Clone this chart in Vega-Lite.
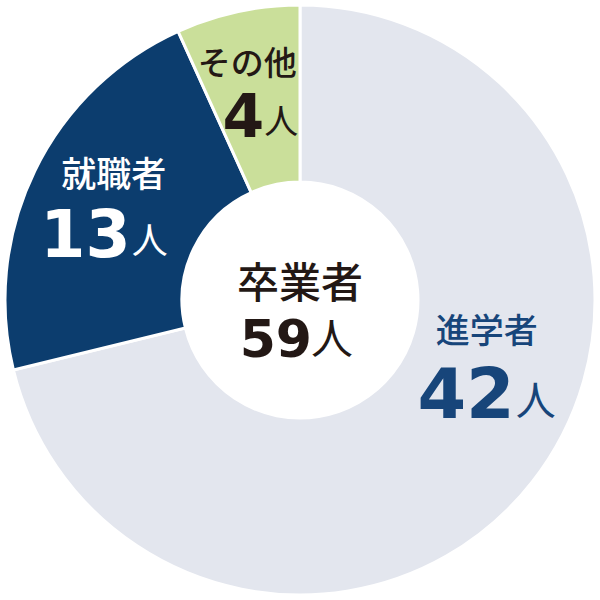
{
  "$schema": "https://vega.github.io/schema/vega-lite/v6.json",
  "width": 600,
  "height": 600,
  "autosize": {"type": "none"},
  "padding": 0,
  "background": "#ffffff",
  "config": {"view": {"stroke": null}},
  "data": {"values": [
    {"cat": "進学者", "count": 42},
    {"cat": "就職者", "count": 13},
    {"cat": "その他", "count": 4}
  ]},
  "layer": [
    {
      "encoding": {
        "theta": {"field": "count", "type": "quantitative", "stack": true},
        "order": {"field": "cat", "sort": "descending"}
      },
      "layer": [
        {
          "mark": {"type": "arc", "outerRadius": 295, "innerRadius": 118, "stroke": "#ffffff", "strokeWidth": 3},
          "encoding": {
            "color": {"field": "cat", "type": "nominal", "legend": null,
              "scale": {"domain": ["進学者", "就職者", "その他"], "range": ["#e3e6ee", "#0c3d6e", "#cadf9a"]}}
          }
        },
        {
          "mark": {"type": "text", "radius": 207, "dx": 24, "dy": -95, "font": "Noto Sans CJK JP", "fontSize": 34, "fontWeight": 500, "fill": "#17457a"},
          "encoding": {"detail": {"field": "cat"}, "text": {"condition": {"test": "datum.cat === '進学者'", "field": "cat", "type": "nominal"}, "value": ""}}
        },
        {
          "mark": {"type": "text", "radius": 207, "dx": 52, "dy": -10, "align": "right", "baseline": "alphabetic", "font": "DejaVu Sans", "fontSize": 70, "fontWeight": "bold", "fill": "#17457a"},
          "encoding": {"detail": {"field": "cat"}, "text": {"condition": {"test": "datum.cat === '進学者'", "field": "count", "type": "nominal"}, "value": ""}}
        },
        {
          "mark": {"type": "text", "radius": 207, "dx": 53, "dy": -13, "align": "left", "baseline": "alphabetic", "font": "Noto Sans CJK JP", "fontSize": 40, "fill": "#17457a"},
          "encoding": {"detail": {"field": "cat"}, "text": {"condition": {"test": "datum.cat === '進学者'", "value": "人"}, "value": ""}}
        },
        {
          "mark": {"type": "text", "radius": 207, "dx": 0, "dy": -33, "font": "Noto Sans CJK JP", "fontSize": 35, "fontWeight": 500, "fill": "#ffffff"},
          "encoding": {"detail": {"field": "cat"}, "text": {"condition": {"test": "datum.cat === '就職者'", "field": "cat", "type": "nominal"}, "value": ""}}
        },
        {
          "mark": {"type": "text", "radius": 207, "dx": 17, "dy": 48, "align": "right", "baseline": "alphabetic", "font": "DejaVu Sans", "fontSize": 65, "fontWeight": "bold", "fill": "#ffffff"},
          "encoding": {"detail": {"field": "cat"}, "text": {"condition": {"test": "datum.cat === '就職者'", "field": "count", "type": "nominal"}, "value": ""}}
        },
        {
          "mark": {"type": "text", "radius": 207, "dx": 18, "dy": 45, "align": "left", "baseline": "alphabetic", "font": "Noto Sans CJK JP", "fontSize": 36, "fill": "#ffffff"},
          "encoding": {"detail": {"field": "cat"}, "text": {"condition": {"test": "datum.cat === '就職者'", "value": "人"}, "value": ""}}
        },
        {
          "mark": {"type": "text", "radius": 207, "dx": -9, "dy": -33, "font": "Noto Sans CJK JP", "fontSize": 33, "fontWeight": 500, "fill": "#231815"},
          "encoding": {"detail": {"field": "cat"}, "text": {"condition": {"test": "datum.cat === 'その他'", "field": "cat", "type": "nominal"}, "value": ""}}
        },
        {
          "mark": {"type": "text", "radius": 207, "dx": 8, "dy": 39, "align": "right", "baseline": "alphabetic", "font": "DejaVu Sans", "fontSize": 60, "fontWeight": "bold", "fill": "#231815"},
          "encoding": {"detail": {"field": "cat"}, "text": {"condition": {"test": "datum.cat === 'その他'", "field": "count", "type": "nominal"}, "value": ""}}
        },
        {
          "mark": {"type": "text", "radius": 207, "dx": 8, "dy": 36, "align": "left", "baseline": "alphabetic", "font": "Noto Sans CJK JP", "fontSize": 34, "fill": "#231815"},
          "encoding": {"detail": {"field": "cat"}, "text": {"condition": {"test": "datum.cat === 'その他'", "value": "人"}, "value": ""}}
        }
      ]
    },
    {
      "transform": [{"aggregate": [{"op": "sum", "field": "count", "as": "total"}]}],
      "layer": [
        {
          "mark": {"type": "text", "dy": -15, "font": "Noto Sans CJK JP", "fontSize": 42, "fontWeight": 500, "fill": "#231815"},
          "encoding": {"text": {"value": "卒業者"}}
        },
        {
          "mark": {"type": "text", "dx": 12, "dy": 57, "align": "right", "baseline": "alphabetic", "font": "DejaVu Sans", "fontSize": 52, "fontWeight": "bold", "fill": "#231815"},
          "encoding": {"text": {"field": "total", "type": "nominal"}}
        },
        {
          "mark": {"type": "text", "dx": 11, "dy": 54, "align": "left", "baseline": "alphabetic", "font": "Noto Sans CJK JP", "fontSize": 42, "fill": "#231815"},
          "encoding": {"text": {"value": "人"}}
        }
      ]
    }
  ]
}
